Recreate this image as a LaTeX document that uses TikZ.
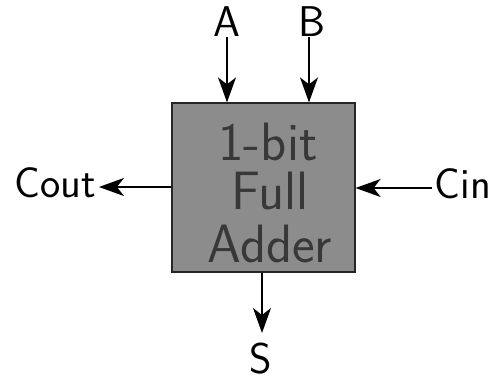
\documentclass[tikz,border=0pt]{standalone}
\usepackage{fontspec}
\usetikzlibrary{arrows.meta}
\tikzset{
  sig/.style={font=\sffamily\fontsize{43}{48}\selectfont, inner sep=3pt},
  wire/.style={line width=1.6pt, -{Stealth[length=25pt,width=18pt,inset=7pt]}},
  adder/.style={draw=black!85, line width=1.2pt, fill=black!45,
    minimum width=183pt, minimum height=169pt},
  adderline/.style={font=\sffamily\fontsize{54}{54}\selectfont, text=black!78,
    anchor=base, inner sep=0pt}
}
\begin{document}
\begin{tikzpicture}[x=1pt,y=-1pt]
  \useasboundingbox (0,0) rectangle (496,382);
  % the adder block and its three-line caption
  \node[adder] (fa) at (263.5,187.5) {};
  \node[adderline] (l1) at (268,161) {1-bit};
  \node[adderline] (l2) at (270,210) {Full};
  \node[adderline] (l3) at (270,263) {Adder};
  % signal labels
  \node[sig] (a) at (227,22) {A};
  \node[sig] (b) at (312,22) {B};
  \node[sig] (cout) at (55,183) {Cout};
  \node[sig] (cin) at (463,184) {Cin};
  \node[sig] (s) at (261,359) {S};
  % inputs and outputs
  \draw[wire] (a.south) ++(0,-3) -- (a.south |- fa.north);
  \draw[wire] (b.south) ++(-3,-3) -- ([xshift=-3pt]b.south |- fa.north);
  \draw[wire] (fa.west |- 0,187) -- (cout.east |- 0,187);
  \draw[wire] (cin.west |- 0,188) -- (fa.east |- 0,188);
  \draw[wire] (fa.south -| 262,0) -- (262,333);
\end{tikzpicture}
\end{document}
